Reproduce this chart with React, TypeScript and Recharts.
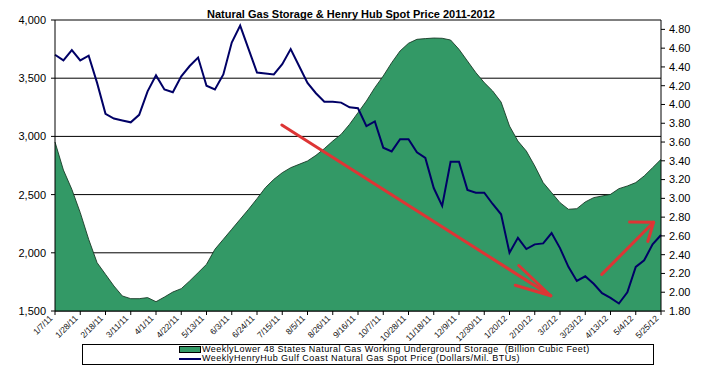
import React from 'react';
import {
    ComposedChart, Area, Line, XAxis, YAxis,
    CartesianGrid, ReferenceLine
} from 'recharts';

// weekly report dates, 1/7/11 .. 5/25/12
const firstWeek = new Date(2011, 0, 7);
const weeks: string[] = Array.from({ length: 73 }, (_, k) => {
    const d = new Date(firstWeek.getFullYear(), firstWeek.getMonth(), firstWeek.getDate() + 7 * k);
    return `${d.getMonth() + 1}/${d.getDate()}/${String(d.getFullYear()).slice(2)}`;
});

// Bcf, lower 48 working gas in storage
const storage = [
    2952, 2711, 2545, 2345, 2116, 1915, 1815, 1715, 1629, 1606, 1606, 1615, 1580,
    1620, 1663, 1692, 1758, 1829, 1901, 2030, 2116, 2202, 2288, 2374, 2465, 2560,
    2631, 2688, 2731, 2760, 2789, 2837, 2895, 2960, 3018, 3104, 3204, 3304, 3419,
    3519, 3633, 3734, 3800, 3834, 3840, 3845, 3843, 3828, 3748, 3648, 3548, 3462,
    3390, 3295, 3089, 2960, 2874, 2746, 2603, 2517, 2431, 2374, 2379, 2437, 2474,
    2488, 2502, 2551, 2574, 2603, 2660, 2731, 2803,
];

// $/MMBtu, Henry Hub weekly spot
const price = [
    4.53, 4.47, 4.58, 4.47, 4.52, 4.23, 3.90, 3.85, 3.83, 3.81, 3.89, 4.14, 4.31,
    4.16, 4.13, 4.30, 4.41, 4.50, 4.20, 4.16, 4.32, 4.66, 4.84, 4.59, 4.34, 4.33,
    4.32, 4.43, 4.59, 4.41, 4.23, 4.12, 4.03, 4.03, 4.02, 3.97, 3.96, 3.77, 3.82,
    3.54, 3.50, 3.63, 3.63, 3.49, 3.43, 3.11, 2.92, 3.39, 3.39, 3.09, 3.06, 3.06,
    2.94, 2.83, 2.42, 2.58, 2.46, 2.51, 2.52, 2.63, 2.47, 2.27, 2.12, 2.17, 2.09,
    1.99, 1.94, 1.88, 2.00, 2.27, 2.34, 2.51, 2.61,
];

const leftTicks = [1500, 2000, 2500, 3000, 3500, 4000];
const rightTicks = [1.8, 2.0, 2.2, 2.4, 2.6, 2.8, 3.0, 3.2, 3.4, 3.6, 3.8, 4.0, 4.2, 4.4, 4.6, 4.8];
const labelTicks = Array.from({ length: 25 }, (_, k) => k * 3);

// trend arrows drawn on the chart: [week, Bcf] -> [week, Bcf]
const downTrend = [{ x: 26.95, y: 3098 }, { x: 58.9, y: 1631 }];
const upTrend = [{ x: 64.96, y: 1815 }, { x: 71.12, y: 2262 }];

const data = weeks.map((w, i) => ({ i, week: w, storage: storage[i], price: price[i] }));

const FONT = '"Liberation Sans", Arial, sans-serif';
const GREEN = '#339966';
const NAVY = '#000066';
const RED = '#dd3535';

const DateTick = ({ x, y, payload }: any) => (
    <text
        x={x - 2}
        y={y}
        transform={`rotate(-45 ${x - 2} ${y})`}
        textAnchor="end"
        fontSize={8.5}
        fontFamily={FONT}
        fill="#111"
    >
        {weeks[payload.value]}
    </text>
);

// arms: [angle from the back direction in degrees, length]
const arrow = (arms: [number, number][]) => (props: any) => {
    const { x1, y1, x2, y2 } = props;
    const back = Math.atan2(y1 - y2, x1 - x2);
    return (
        <g stroke={RED} strokeWidth={3} fill="none" strokeLinecap="round">
            <line x1={x1} y1={y1} x2={x2} y2={y2} />
            {arms.map(([deg, len], k) => {
                const a = back + (deg * Math.PI) / 180;
                return <line key={k} x1={x2} y1={y2} x2={x2 + len * Math.cos(a)} y2={y2 + len * Math.sin(a)} />;
            })}
        </g>
    );
};

export default function App() {
    return (
        <div style={{ position: 'absolute', left: 0, top: 0, width: 702, height: 366, background: '#fff', fontFamily: FONT }}>
            <ComposedChart width={702} height={366} data={data} margin={{ top: 20, right: 0, bottom: 0, left: 0 }}>
                <CartesianGrid yAxisId="left" vertical={false} stroke="#000" strokeWidth={1} />
                <XAxis
                    dataKey="i"
                    type="number"
                    domain={[0, 72]}
                    ticks={labelTicks}
                    interval={0}
                    height={55}
                    tick={<DateTick />}
                    tickSize={4}
                    tickMargin={4}
                    axisLine={{ stroke: '#000' }}
                    tickLine={{ stroke: '#000' }}
                />
                <YAxis
                    yAxisId="left"
                    width={55}
                    domain={[1500, 4000]}
                    ticks={leftTicks}
                    tickFormatter={(v: number) => v.toLocaleString('en-US')}
                    tick={{ fill: '#000', fontSize: 11, fontFamily: FONT }}
                    tickSize={4}
                    tickMargin={5}
                    axisLine={{ stroke: '#000' }}
                    tickLine={{ stroke: '#000' }}
                />
                <YAxis
                    yAxisId="right"
                    orientation="right"
                    width={41}
                    domain={[1.8, 4.9]}
                    ticks={rightTicks}
                    tickFormatter={(v: number) => v.toFixed(2)}
                    tick={{ fill: '#000', fontSize: 11, fontFamily: FONT }}
                    tickSize={4}
                    tickMargin={4}
                    axisLine={{ stroke: '#000' }}
                    tickLine={{ stroke: '#000' }}
                />
                <Area
                    yAxisId="left"
                    dataKey="storage"
                    type="linear"
                    fill={GREEN}
                    fillOpacity={1}
                    stroke="#183a27"
                    strokeWidth={0.9}
                    isAnimationActive={false}
                />
                <Line
                    yAxisId="right"
                    dataKey="price"
                    type="linear"
                    stroke={NAVY}
                    strokeWidth={2}
                    dot={false}
                    isAnimationActive={false}
                />
                <ReferenceLine yAxisId="left" segment={downTrend} shape={arrow([[11, 44], [-16, 37]])} />
                <ReferenceLine yAxisId="left" segment={upTrend} shape={arrow([[46, 24], [-28, 20]])} />
            </ComposedChart>

            <div style={{
                position: 'absolute', left: 0, top: 8, width: 702, textAlign: 'center',
                fontSize: 11, fontWeight: 'bold', lineHeight: '12px', color: '#000',
            }}>
                Natural Gas Storage &amp; Henry Hub Spot Price 2011-2012
            </div>

            <div style={{
                position: 'absolute', left: 82, top: 344, width: 570, height: 19,
                border: '1px solid #000', boxSizing: 'content-box',
            }}>
                <div style={{
                    position: 'absolute', left: 96, top: 0, fontSize: 9, lineHeight: '9px',
                    letterSpacing: 0.45, whiteSpace: 'pre', color: '#000',
                }}>
                    <div style={{ display: 'flex', alignItems: 'center', height: 9 }}>
                        <span style={{ display: 'inline-block', width: 20, height: 5, background: GREEN, border: '1px solid #000', marginRight: 1 }} />
                        WeeklyLower 48 States Natural Gas Working Underground Storage  (Billion Cubic Feet)
                    </div>
                    <div style={{ display: 'flex', alignItems: 'center', height: 9 }}>
                        <span style={{ display: 'inline-block', width: 22, height: 2, background: NAVY, marginRight: 1 }} />
                        WeeklyHenryHub Gulf Coast Natural Gas Spot Price (Dollars/Mil. BTUs)
                    </div>
                </div>
            </div>
        </div>
    );
}
